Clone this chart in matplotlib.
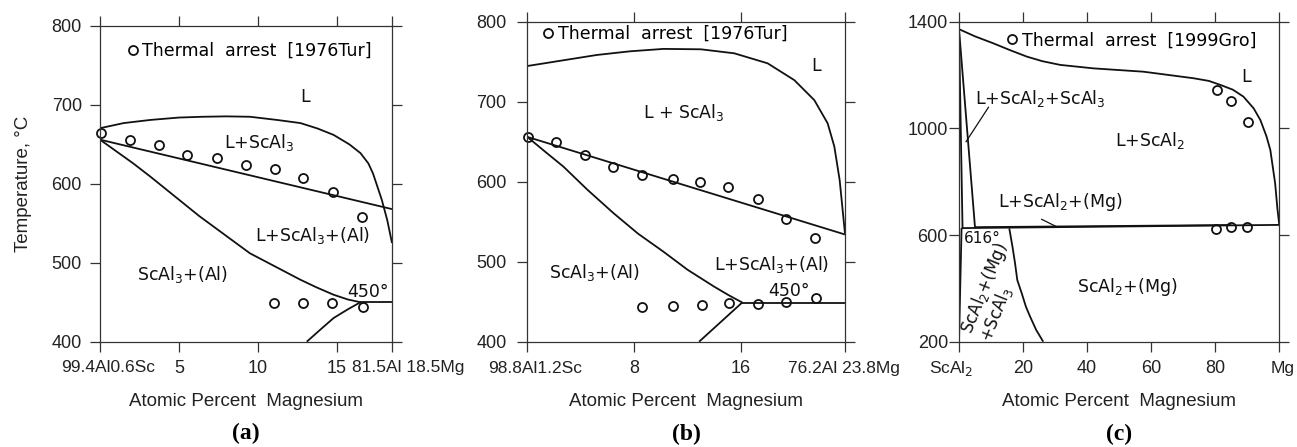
import numpy as np
import matplotlib.pyplot as plt

plt.rcParams['font.family'] = ['Liberation Sans', 'DejaVu Sans']
plt.rcParams['mathtext.fontset'] = 'dejavusans'

# ---------------- panel (a): 99.4Al0.6Sc - 81.5Al18.5Mg ----------------
a_liq_x = [0, 1.5, 3.2, 5, 6.5, 8, 9.5, 11.2, 12.7, 13.8, 14.8, 15.8, 16.5, 17.0, 17.3, 17.85, 18.2, 18.5]
a_liq_t = [670.5, 677, 681, 684, 685, 685.5, 685, 681, 677, 670, 662, 650, 639, 626, 613, 580, 554, 525]
a_line_x = [0, 18.5]
a_line_t = [656, 568]
a_sol_x = [0, 2.1, 3.2, 6.3, 9.5, 11.6, 12.7, 13.7, 14.8, 15.7, 16.5]
a_sol_t = [656, 626, 609, 559, 512, 490, 478.5, 469, 459.5, 453.5, 450]
a_eut_x = [16.5, 18.5]
a_eut_t = [450, 450]
a_low_x = [13.1, 14.0, 14.8, 15.7, 16.5]
a_low_t = [400, 416, 430, 441, 450]
a_pts_x = [0.05, 1.9, 3.76, 5.53, 7.39, 9.23, 11.09, 12.85, 14.75, 16.58, 11.03, 12.85, 14.68, 16.65]
a_pts_t = [664, 655, 649, 636, 632.5, 623.5, 619, 607.5, 589.5, 558, 448.5, 448.5, 449.5, 443.5]
a_ticks = [0, 5, 10, 15, 18.5]
a_ticklabels = ['', '5', '10', '15', '']

# ---------------- panel (b): 98.8Al1.2Sc - 76.2Al23.8Mg ----------------
b_liq_x = [0, 2.6, 5.2, 7.7, 10.2, 13.0, 15.5, 18.0, 20.0, 21.5, 22.5, 23.0, 23.4, 23.8]
b_liq_t = [744.6, 751.5, 758.4, 763, 766, 765.5, 760.5, 748, 727, 702, 673, 644, 602, 535]
b_line_x = [0, 23.8]
b_line_t = [656, 534]
b_sol_x = [0, 1.3, 2.71, 4.5, 6.47, 8.3, 10.2, 12.0, 14.0, 15.1, 16.1]
b_sol_t = [656, 638, 618.8, 590, 560.5, 535, 512.5, 490, 468.8, 458, 449]
b_eut_x = [16.1, 23.8]
b_eut_t = [449, 449]
b_low_x = [12.87, 16.1]
b_low_t = [400, 449]
b_pts_x = [0.03, 2.16, 4.29, 6.42, 8.63, 10.89, 12.94, 15.05, 17.26, 19.39, 21.52,
           8.63, 10.94, 13.05, 15.13, 17.26, 19.39, 21.65]
b_pts_t = [656, 650, 633.4, 618.8, 608.4, 603, 600, 593.8, 578.8, 553, 530,
           443.8, 445, 446, 448, 447, 449.2, 454.2]
b_ticks = [0, 8, 16, 23.8]
b_ticklabels = ['', '8', '16', '']

# ---------------- panel (c): ScAl2 - Mg ----------------
c_liq_x = [0, 5, 10.7, 16, 21.2, 26, 31.6, 42, 57.6, 73.2, 78, 81.6, 85.5, 88.8, 92, 94.1, 96, 97.2, 98.7, 99.4, 100]
c_liq_t = [1372, 1345, 1319, 1293, 1269, 1252, 1238, 1225, 1212.5, 1188, 1178, 1163, 1145, 1119, 1075, 1031, 970, 919, 794, 700, 637]
c_l1_x = [0, 1.1]
c_l1_t = [1372, 627]
c_l2_x = [0, 5]
c_l2_t = [1372, 628]
c_eut1_x = [0.8, 100]
c_eut1_t = [626, 638]
c_eut2_x = [5, 85]
c_eut2_t = [629.5, 637.5]
c_vert_x = [0.8, 0]
c_vert_t = [626, 200]
c_sol_x = [15.7, 16.7, 17.5, 18.2, 19.6, 20.9, 22.2, 24.1, 26.3]
c_sol_t = [625, 556, 494, 431, 381, 331, 294, 244, 200]
c_ptr1_x = [9.2, 2.2]
c_ptr1_t = [1079, 950]
c_ptr2_x = [25.8, 30.5]
c_ptr2_t = [659, 631]
c_pts_x = [80.5, 85, 90.2, 80.3, 85, 89.9]
c_pts_t = [1144, 1104, 1023, 621.6, 631.3, 630.5]
c_ticks = [0, 20, 40, 60, 80, 100]
c_ticklabels = ['', '20', '40', '60', '80', '']

W, H = 1297, 447
fig = plt.figure(figsize=(W / 100, H / 100), dpi=100)

def box(l, r, t, b):
    return [l / W, (H - b) / H, (r - l) / W, (b - t) / H]

axa = fig.add_axes(box(100, 392, 26, 341.7))
axb = fig.add_axes(box(527.3, 845, 21.7, 341.7))
axc = fig.add_axes(box(959, 1279.3, 21.7, 341.7))

lw = 1.3
ink = '#111111'
inner = dict(family='DejaVu Sans', fontsize=12.5, color=ink)


def style(ax, xlim, ylim, xt, xtl, yt, ypad):
    ax.set_xlim(*xlim)
    ax.set_ylim(*ylim)
    ax.set_xticks(xt)
    ax.set_xticklabels(xtl)
    ax.set_yticks(yt)
    ax.tick_params(direction='out', length=7, width=0.9, colors='#333333',
                   labelcolor='#222222', labelsize=13,
                   top=True, right=True, bottom=True, left=True)
    ax.tick_params(axis='y', pad=ypad)
    ax.tick_params(axis='x', pad=6)
    for s in ax.spines.values():
        s.set_linewidth(0.9)
        s.set_color('#333333')
    ax.set_xlabel('Atomic Percent  Magnesium', fontsize=13.5, labelpad=12, color='#222222')


def endlabels(ax, items):
    for x, s in items:
        ax.text(x, -0.083, s, transform=ax.get_xaxis_transform(), ha='center', va='center',
                fontsize=12.5, color='#222222')


def points(ax, x, t, label, loc):
    ax.plot(x, t, 'o', ms=6.5, mfc='none', mec=ink, mew=1.3, label=label, clip_on=False)
    ax.legend(loc='upper left', bbox_to_anchor=loc, frameon=False, handlelength=0.6,
              handletextpad=0.25, borderaxespad=0, borderpad=0,
              prop=dict(family='DejaVu Sans', size=12.5))


# ---- (a)
ax = axa
for x, t in [(a_liq_x, a_liq_t), (a_line_x, a_line_t), (a_sol_x, a_sol_t),
             (a_eut_x, a_eut_t), (a_low_x, a_low_t)]:
    ax.plot(x, t, color=ink, lw=lw, solid_capstyle='butt')
points(ax, a_pts_x, a_pts_t, 'Thermal  arrest  [1976Tur]', (0.095, 0.95))
style(ax, (0, 18.5), (400, 800), a_ticks, a_ticklabels, [400, 500, 600, 700, 800], 6)
endlabels(ax, [(0.5, '99.4Al0.6Sc'), (19.5, '81.5Al 18.5Mg')])
ax.set_ylabel('Temperature, \u00b0C', fontsize=13.5, labelpad=14, color='#222222')
ax.text(13.0, 710, 'L', ha='center', va='center', **inner)
ax.text(10.1, 652, 'L+ScAl$_3$', ha='center', va='center', **inner)
ax.text(13.5, 534, 'L+ScAl$_3$+(Al)', ha='center', va='center', **inner)
ax.text(5.2, 485, 'ScAl$_3$+(Al)', ha='center', va='center', **inner)
ax.text(17.0, 463, '450\u00b0', ha='center', va='center', **inner)

# ---- (b)
ax = axb
for x, t in [(b_liq_x, b_liq_t), (b_line_x, b_line_t), (b_sol_x, b_sol_t),
             (b_eut_x, b_eut_t), (b_low_x, b_low_t)]:
    ax.plot(x, t, color=ink, lw=lw, solid_capstyle='butt')
points(ax, b_pts_x, b_pts_t, 'Thermal  arrest  [1976Tur]', (0.05, 0.99))
style(ax, (0, 23.8), (400, 800), b_ticks, b_ticklabels, [400, 500, 600, 700, 800], 8)
endlabels(ax, [(0.6, '98.8Al1.2Sc'), (23.7, '76.2Al 23.8Mg')])
ax.text(21.6, 744, 'L', ha='center', va='center', **inner)
ax.text(11.7, 686, 'L + ScAl$_3$', ha='center', va='center', **inner)
ax.text(18.3, 496, 'L+ScAl$_3$+(Al)', ha='center', va='center', **inner)
ax.text(5.0, 487, 'ScAl$_3$+(Al)', ha='center', va='center', **inner)
ax.text(19.6, 463, '450\u00b0', ha='center', va='center', **inner)

# ---- (c)
ax = axc
for x, t in [(c_liq_x, c_liq_t), (c_l1_x, c_l1_t), (c_l2_x, c_l2_t), (c_eut1_x, c_eut1_t),
             (c_eut2_x, c_eut2_t), (c_vert_x, c_vert_t), (c_sol_x, c_sol_t)]:
    ax.plot(x, t, color=ink, lw=lw, solid_capstyle='butt')
for x, t in [(c_ptr1_x, c_ptr1_t), (c_ptr2_x, c_ptr2_t)]:
    ax.plot(x, t, color=ink, lw=0.9)
points(ax, c_pts_x, c_pts_t, 'Thermal  arrest  [1999Gro]', (0.15, 0.97))
style(ax, (0, 100), (200, 1400), c_ticks, c_ticklabels, [200, 600, 1000, 1400], 1)
endlabels(ax, [(-2.3, 'ScAl$_2$'), (100.9, 'Mg')])
ax.text(89.7, 1191, 'L', ha='center', va='center', **inner)
ax.text(25.3, 1112, 'L+ScAl$_2$+ScAl$_3$', ha='center', va='center', **inner)
ax.text(59.7, 956, 'L+ScAl$_2$', ha='center', va='center', **inner)
ax.text(31.6, 725, 'L+ScAl$_2$+(Mg)', ha='center', va='center', **inner)
ax.text(1.6, 588, '616\u00b0', ha='left', va='center', **dict(inner, fontsize=11))
ax.text(52.4, 406, 'ScAl$_2$+(Mg)', ha='center', va='center', **inner)
ax.text(11.0, 385, 'ScAl$_2$+(Mg)\n+ScAl$_3$', ha='center', va='center', rotation=68,
        rotation_mode='anchor', multialignment='left', linespacing=0.9,
        **dict(inner, fontsize=12))

# panel letters
for ax, s in [(axa, '(a)'), (axb, '(b)'), (axc, '(c)')]:
    ax.text(0.5, -0.29, s, transform=ax.transAxes, ha='center', va='center',
            family='Liberation Serif', fontweight='bold', fontsize=17)

fig.savefig('out.png', dpi=100)
